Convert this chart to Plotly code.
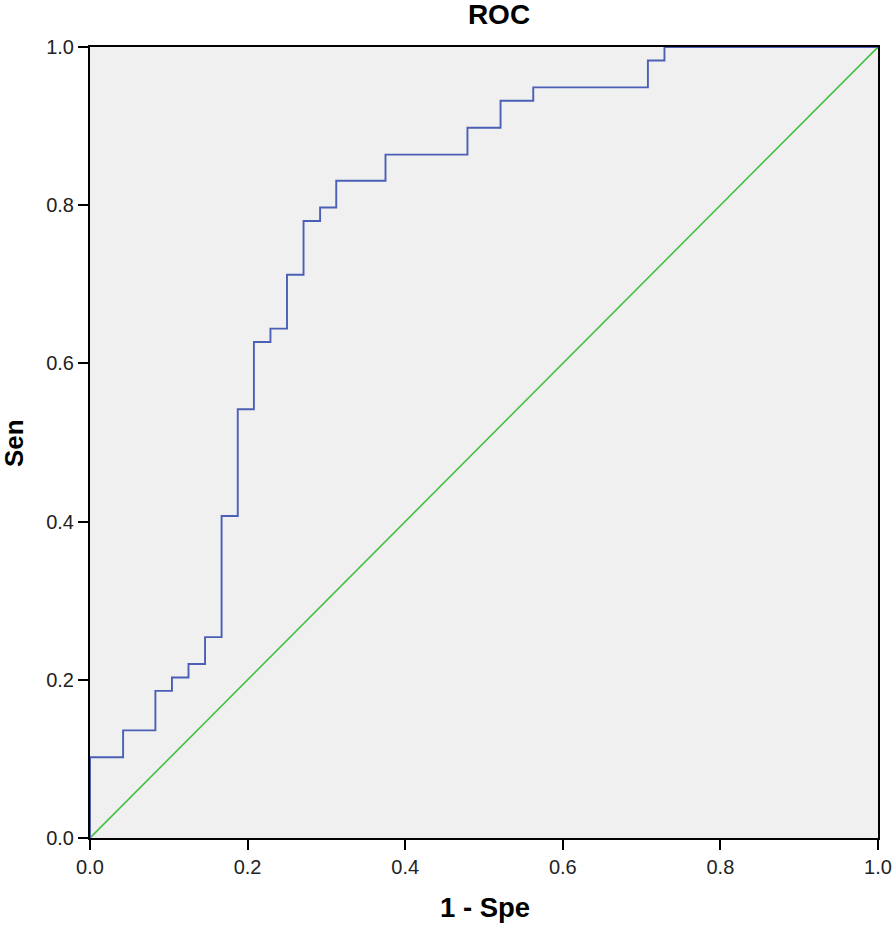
import plotly.graph_objects as go

# ROC step curve vertices (1 - Specificity, Sensitivity)
fpr = [0.0, 0.0, 0.042, 0.083, 0.104, 0.125, 0.146, 0.167, 0.1875, 0.208, 0.229,
       0.25, 0.271, 0.292, 0.3125, 0.375, 0.479, 0.521, 0.5625, 0.708, 0.729, 1.0]
sen = [0.0, 0.102, 0.136, 0.186, 0.203, 0.220, 0.254, 0.407, 0.542, 0.627, 0.644,
       0.712, 0.780, 0.797, 0.831, 0.864, 0.898, 0.932, 0.949, 0.983, 1.0, 1.0]

ref_x = [0.0, 1.0]
ref_y = [0.0, 1.0]

tick_vals = [0.0, 0.2, 0.4, 0.6, 0.8, 1.0]
tick_text = ["0.0", "0.2", "0.4", "0.6", "0.8", "1.0"]

W, H = 893, 928
L, R, T, B = 90, 15, 47, 90
PW, PH = W - L - R, H - T - B

fig = go.Figure()
fig.add_trace(go.Scatter(x=ref_x, y=ref_y, mode="lines",
                         line=dict(color="#44bf44", width=1.6), showlegend=False))
fig.add_trace(go.Scatter(x=fpr, y=sen, mode="lines", line_shape="hv",
                         line=dict(color="#4a5fb5", width=1.9), showlegend=False))

font_fam = "Liberation Sans, Arial, sans-serif"
fig.update_layout(
    width=W, height=H, autosize=False,
    margin=dict(l=L, r=R, t=T, b=B, autoexpand=False),
    paper_bgcolor="white", plot_bgcolor="#f0f0f0",
    font=dict(family=font_fam, color="black"),
    title=dict(text="<b>ROC</b>", x=(499 - L) / PW, xref="paper", xanchor="center",
               y=1 - 14 / H, yref="container", yanchor="middle",
               font=dict(size=28, family=font_fam, color="black")),
)
axis_common = dict(range=[0, 1], tickvals=tick_vals, ticktext=tick_text,
                   showgrid=False, zeroline=False, showline=True, automargin=False,
                   linecolor="black", linewidth=2, mirror=True,
                   ticks="outside", ticklen=10, tickwidth=2, tickcolor="black",
                   tickfont=dict(size=20, family=font_fam, color="#222"))
fig.update_xaxes(**axis_common)
fig.update_yaxes(**axis_common)

fig.add_annotation(text="<b>1 - Spe</b>", xref="paper", yref="paper",
                   x=(485 - L) / PW, y=(H - B - 908) / PH,
                   xanchor="center", yanchor="middle", showarrow=False,
                   font=dict(size=27.5, family=font_fam, color="black"))
fig.add_annotation(text="<b>Sen</b>", xref="paper", yref="paper",
                   x=(14 - L) / PW, y=(H - B - 443) / PH, textangle=-90,
                   xanchor="center", yanchor="middle", showarrow=False,
                   font=dict(size=26, family=font_fam, color="black"))

fig.write_html("out.html", config={"displayModeBar": False},
               post_script="document.body.style.margin='0';document.body.style.overflow='hidden';")
